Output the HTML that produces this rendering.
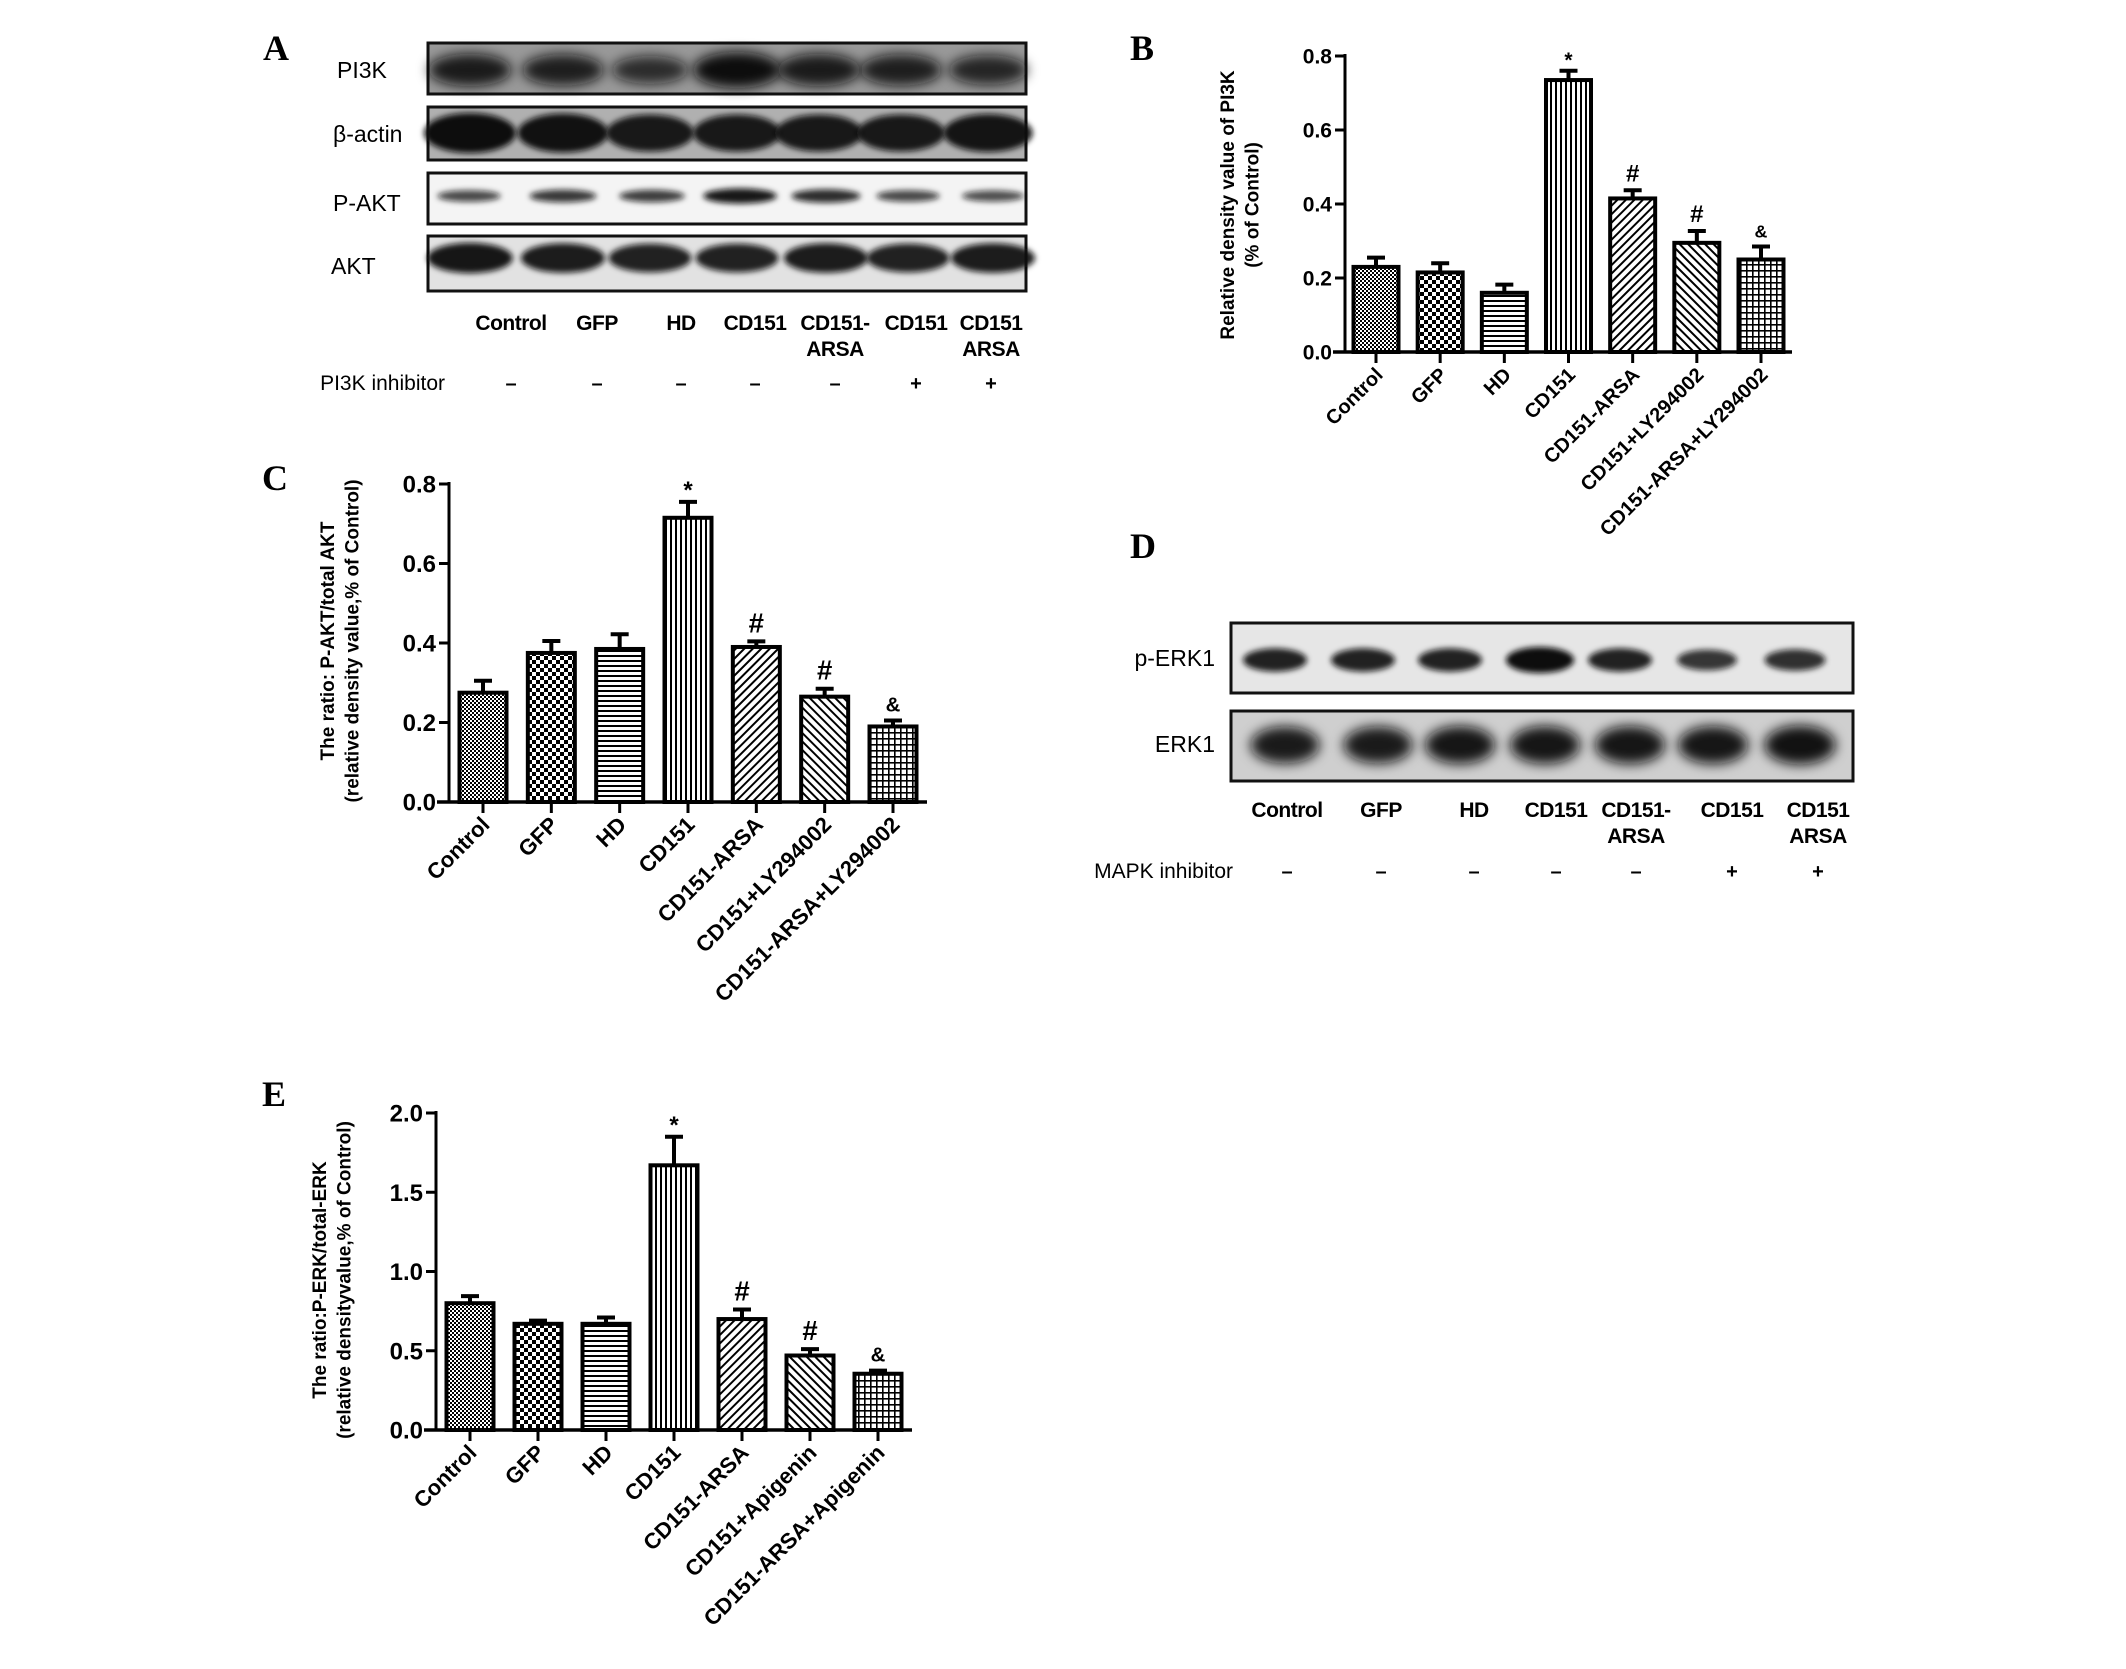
<!DOCTYPE html>
<html><head><meta charset="utf-8"><style>
html,body{margin:0;padding:0;background:#fff;}
svg{display:block;}
text{font-family:"Liberation Sans",Arial,sans-serif;}
.lt{font-family:"Liberation Serif",serif;font-weight:bold;font-size:36px;}
.bl{font-size:23px;}
.ln{font-size:21px;font-weight:bold;letter-spacing:-0.5px;}
</style></head><body>
<svg id="fig" width="2126" height="1669" viewBox="0 0 2126 1669" xmlns="http://www.w3.org/2000/svg">
<defs>
<filter id="blur3" x="-30%" y="-60%" width="160%" height="220%"><feGaussianBlur stdDeviation="3"/></filter>
<filter id="blur6" x="-30%" y="-60%" width="160%" height="220%"><feGaussianBlur stdDeviation="6"/></filter>
<pattern id="p0" width="4" height="4" patternUnits="userSpaceOnUse"><rect width="4" height="4" fill="#fff"/><rect width="2" height="2" fill="#000"/><rect x="2" y="2" width="2" height="2" fill="#000"/></pattern>
<pattern id="p1" width="8" height="8" patternUnits="userSpaceOnUse"><rect width="8" height="8" fill="#fff"/><rect width="4" height="4" fill="#000"/><rect x="4" y="4" width="4" height="4" fill="#000"/></pattern>
<pattern id="p2" width="5" height="5" patternUnits="userSpaceOnUse"><rect width="5" height="5" fill="#fff"/><rect y="0" width="5" height="2" fill="#000"/></pattern>
<pattern id="p3" width="5" height="5" patternUnits="userSpaceOnUse"><rect width="5" height="5" fill="#fff"/><rect x="0" width="2" height="5" fill="#000"/></pattern>
<pattern id="p4" width="6" height="6" patternUnits="userSpaceOnUse" patternTransform="rotate(45)"><rect width="6" height="6" fill="#fff"/><rect width="2" height="6" fill="#000"/></pattern>
<pattern id="p5" width="6" height="6" patternUnits="userSpaceOnUse" patternTransform="rotate(-45)"><rect width="6" height="6" fill="#fff"/><rect width="2" height="6" fill="#000"/></pattern>
<pattern id="p6" width="6" height="6" patternUnits="userSpaceOnUse"><rect width="6" height="6" fill="#fff"/><rect width="6" height="1.6" fill="#000"/><rect width="1.6" height="6" fill="#000"/></pattern>
</defs>

<text class="lt" x="263" y="60">A</text>
<text class="lt" x="1130" y="60">B</text>
<text class="lt" x="262" y="490">C</text>
<text class="lt" x="1130" y="558">D</text>
<text class="lt" x="262" y="1106">E</text>

<g id="blotA">
  <text class="bl" x="337" y="78">PI3K</text>
  <text class="bl" x="333" y="142">β-actin</text>
  <text class="bl" x="333" y="211">P-AKT</text>
  <text class="bl" x="331" y="274">AKT</text>
</g>
<g id="blotD">
  <text class="bl" x="1215" y="666" text-anchor="end">p-ERK1</text>
  <text class="bl" x="1215" y="752" text-anchor="end">ERK1</text>
</g>
<g id="chartB"></g>
<g id="chartC"></g>
<g id="chartE"></g>
</svg>
<script>
// ---- Panel B data ----
const bCats = ["Control","GFP","HD","CD151","CD151-ARSA","CD151+LY294002","CD151-ARSA+LY294002"];
const bVals = [0.23,0.215,0.16,0.735,0.415,0.295,0.25];
const bErrs = [0.025,0.025,0.022,0.025,0.022,0.032,0.035];
const bMarks = ["","","","*","#","#","&"];
const bTicks = ["0.0","0.2","0.4","0.6","0.8"];
// ---- Panel C data ----
const cCats = ["Control","GFP","HD","CD151","CD151-ARSA","CD151+LY294002","CD151-ARSA+LY294002"];
const cVals = [0.275,0.375,0.385,0.715,0.39,0.265,0.19];
const cErrs = [0.03,0.03,0.037,0.04,0.014,0.02,0.015];
const cMarks = ["","","","*","#","#","&"];
const cTicks = ["0.0","0.2","0.4","0.6","0.8"];
// ---- Panel E data ----
const eCats = ["Control","GFP","HD","CD151","CD151-ARSA","CD151+Apigenin","CD151-ARSA+Apigenin"];
const eVals = [0.80,0.67,0.67,1.67,0.70,0.47,0.355];
const eErrs = [0.045,0.02,0.04,0.18,0.06,0.04,0.02];
const eMarks = ["","","","*","#","#","&"];
const eTicks = ["0.0","0.5","1.0","1.5","2.0"];
// ---- Blot lanes ----
const aLanes = ["Control","GFP","HD","CD151","CD151-|ARSA","CD151","CD151|ARSA"];
const aInhib = ["–","–","–","–","–","+","+"];
const dLanes = ["Control","GFP","HD","CD151","CD151-|ARSA","CD151","CD151|ARSA"];
const dInhib = ["–","–","–","–","–","+","+"];
const aPI3K = [0.8,0.75,0.55,1.0,0.8,0.75,0.65];
const aActin = [1.0,0.95,0.85,0.85,0.85,0.85,0.9];
const aPAKT = [0.45,0.6,0.55,0.9,0.7,0.45,0.4];
const aAKT = [0.9,0.85,0.8,0.8,0.85,0.8,0.85];
const dPERK = [0.8,0.8,0.8,1.0,0.8,0.6,0.65];
const dERK = [0.85,0.85,0.9,0.9,0.9,0.9,0.95];

const NS = "http://www.w3.org/2000/svg";
function mk(tag, attrs, parent){
  const e = document.createElementNS(NS, tag);
  for (const k in attrs) e.setAttribute(k, attrs[k]);
  if (parent) parent.appendChild(e);
  return e;
}
const pats = ["url(#p0)","url(#p1)","url(#p2)","url(#p3)","url(#p4)","url(#p5)","url(#p6)"];

function drawChart(g, cats, vals, errs, marks, ticks, cfg){
  const tmax = parseFloat(ticks[ticks.length-1]);
  const y = v => cfg.y0 - (v/tmax)*(cfg.y0 - cfg.yTop);
  const n = cats.length;
  const step = (cfg.xEnd - cfg.x0 - cfg.pad*2) / (n-1);
  const x = i => cfg.x0 + cfg.pad + i*step;
  const ya = mk("line",{x1:cfg.x0,y1:cfg.yTop-2,x2:cfg.x0,y2:cfg.y0,stroke:"#000","stroke-width":3},g);
  
  
  const xa = mk("line",{x1:cfg.x0-12,y1:cfg.y0,x2:cfg.xEnd,y2:cfg.y0,stroke:"#000","stroke-width":3.5},g);
  
  
  ticks.forEach(t=>{
    const v = parseFloat(t), yy = y(v);
    mk("line",{x1:cfg.x0-10,y1:yy,x2:cfg.x0,y2:yy,stroke:"#000","stroke-width":3},g);
    const tl = mk("text",{x:cfg.x0-13,y:yy+cfg.fs*0.36,"text-anchor":"end","font-size":cfg.fs,"font-weight":"bold"},g);
    tl.textContent = t;
    
    
  });
  const tt = mk("text",{transform:`translate(${cfg.tx},${cfg.ty}) rotate(-90)`,"text-anchor":"middle","font-size":cfg.tfs,"font-weight":"bold"},g);
  
  
  const t1 = mk("tspan",{x:0,dy:0},tt); t1.textContent = cfg.title1;
  const t2 = mk("tspan",{x:0,dy:cfg.tfs*1.3},tt); t2.textContent = cfg.title2;
  for (let i=0;i<n;i++){
    const cx = x(i), top = y(vals[i]), w = cfg.bw;
    mk("line",{x1:cx,y1:cfg.y0,x2:cx,y2:cfg.y0+11,stroke:"#000","stroke-width":3},g);
    const et = y(vals[i]+errs[i]);
    const eb = mk("path",{d:`M${cx},${top} V${et} M${cx-9},${et} H${cx+9}`,stroke:"#000","stroke-width":4,fill:"none"},g);
    
    
    const r = mk("rect",{x:cx-w/2,y:top,width:w,height:cfg.y0-top,fill:pats[i],stroke:"#000","stroke-width":4},g);
    
    
    if (marks[i]){
      const m = mk("text",{x:cx,y:et-(marks[i]==="*"?4:9),"text-anchor":"middle","font-size":marks[i]==="&"?cfg.fs*0.85:(marks[i]==="*"?cfg.fs:cfg.fs*1.15),"font-weight":"bold","font-family":marks[i]==="#"?"Liberation Serif":"Liberation Sans"},g);
      m.textContent = marks[i];
      
      
    }
    const xl = mk("text",{transform:`translate(${cx+8},${cfg.y0+24}) rotate(-45)`,"text-anchor":"end","font-size":cfg.xfs,"font-weight":"bold"},g);
    xl.textContent = cats[i];
    
    
  }
}

drawChart(document.getElementById("chartB"), bCats,bVals,bErrs,bMarks,bTicks,
  {x0:1345,xEnd:1792,y0:352,yTop:56,pad:31,bw:45,fs:21,xfs:20,tfs:19,tx:1234,ty:205,
   title1:"Relative density value of PI3K",title2:"(% of Control)"});
drawChart(document.getElementById("chartC"), cCats,cVals,cErrs,cMarks,cTicks,
  {x0:449,xEnd:927,y0:802,yTop:484,pad:34,bw:47,fs:24,xfs:22,tfs:19,tx:334,ty:641,
   title1:"The ratio: P-AKT/total AKT",title2:"(relative density value,% of Control)"});
drawChart(document.getElementById("chartE"), eCats,eVals,eErrs,eMarks,eTicks,
  {x0:436,xEnd:912,y0:1430,yTop:1113,pad:34,bw:47,fs:24,xfs:22,tfs:19,tx:326,ty:1280,
   title1:"The ratio:P-ERK/total-ERK",title2:"(relative densityvalue,% of Control)"});

function blotBox(g, x, y, w, h, bg, name){
  const r = mk("rect",{x:x,y:y,width:w,height:h,fill:bg,stroke:"#111","stroke-width":3},g);
  
  
}
function bands(g, xs, cy, ints, bw, bh, blur){
  xs.forEach((cx,i)=>{
    const b = mk("ellipse",{cx:cx,cy:cy,rx:bw*(0.7+0.3*ints[i]),ry:bh*(0.5+0.5*ints[i]),fill:"#111","fill-opacity":0.55+0.45*ints[i],filter:blur},g);
    
    
  });
}
function lanes(g, xs, labels, ly, inhib, iy, ilabel, ilx){
  labels.forEach((l,i)=>{
    const parts = l.split("|");
    parts.forEach((p,j)=>{
      const t = mk("text",{x:xs[i],y:ly+j*26,"text-anchor":"middle",class:"ln"},g);
      t.textContent = p;
      
      
    });
    const s = mk("text",{x:xs[i],y:iy,"text-anchor":"middle","font-size":20,"font-weight":"bold"},g);
    s.textContent = inhib[i];
    
    
  });
  const il = mk("text",{x:ilx,y:iy,"font-size":21,"text-anchor":"end"},g);
  il.textContent = ilabel;
  
  
}
const gA = document.getElementById("blotA");
const aX = [470,563,650,737,819,901,988];
blotBox(gA,428,43,598,51,"#999","blot-pi3k");
bands(gA,aX,70,aPI3K,44,18,"url(#blur6)");
blotBox(gA,428,107,598,53,"#b0b0b0","blot-beta-actin");
bands(gA,aX,133,aActin,46,20,"url(#blur3)");
blotBox(gA,428,173,598,51,"#f4f4f4","blot-p-akt");
bands(gA,[469,563,652,740,826,908,993],196,aPAKT,38,8,"url(#blur3)");
blotBox(gA,428,236,598,55,"#e2e2e2","blot-akt");
bands(gA,[470,563,650,737,826,908,993],258,aAKT,44,16,"url(#blur3)");
lanes(gA,[511,597,681,755,835,916,991],aLanes,330,aInhib,390,"PI3K inhibitor",445);

const gD = document.getElementById("blotD");
blotBox(gD,1231,623,622,70,"#e6e6e6","blot-p-erk1");
bands(gD,[1275,1363,1450,1540,1620,1707,1795],660,dPERK,34,13,"url(#blur3)");
blotBox(gD,1231,711,622,70,"#cfcfcf","blot-erk1");
bands(gD,[1285,1378,1460,1545,1630,1713,1800],745,dERK,36,20,"url(#blur6)");
lanes(gD,[1287,1381,1474,1556,1636,1732,1818],dLanes,817,dInhib,878,"MAPK inhibitor",1233);
</script>
</body></html>
